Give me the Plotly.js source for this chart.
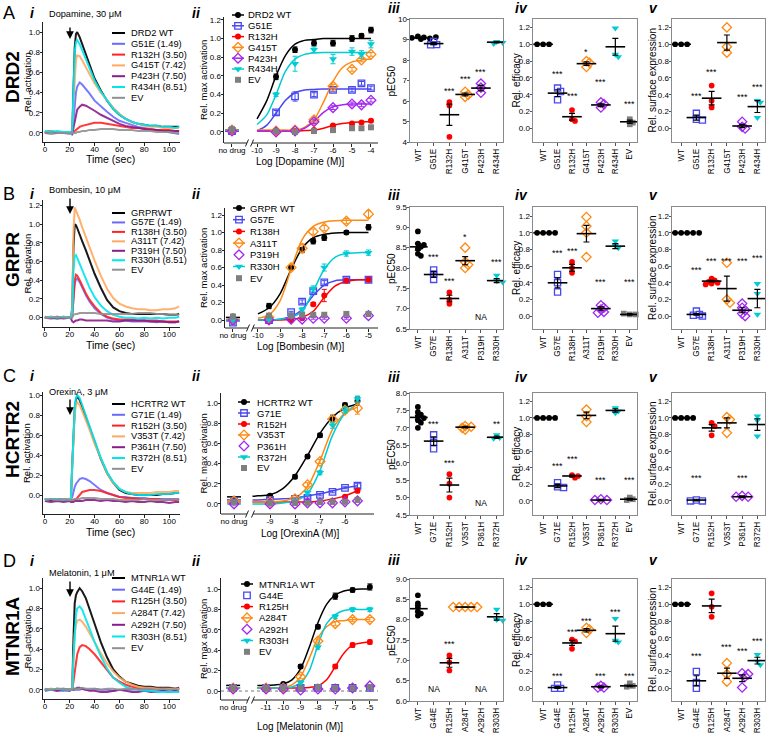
<!DOCTYPE html>
<html><head><meta charset="utf-8">
<script src="https://cdn.plot.ly/plotly-3.0.1.min.js"></script>
<style>body{margin:0;background:#fff}#chart{width:767px;height:733px}</style>
</head><body><div id="chart"></div>
<script>
// ================= DATA =================
const timeSec = [0,5,10,15,20,21,22,23,24,25,26,28,30,33,36,40,45,50,55,60,65,70,75,80,85,90,95,100,105,108];

// ---- Row A: DRD2 ----
const drd2TraceLabels = ['DRD2 WT','G51E (1.49)','R132H (3.50)','G415T (7.42)','P423H (7.50)','R434H (8.51)','EV'];
const drd2_WT    = [0.01,0.02,0.00,0.01,0.00,0.01,0.00,0.45,0.85,0.98,1.00,0.95,0.88,0.78,0.68,0.54,0.42,0.32,0.24,0.18,0.14,0.11,0.09,0.08,0.07,0.07,0.06,0.06,0.06,0.06];
const drd2_G51E  = [0.01,0.01,0.00,0.01,0.00,0.00,-0.02,0.12,0.30,0.40,0.46,0.50,0.48,0.44,0.39,0.32,0.26,0.21,0.16,0.12,0.10,0.08,0.06,0.05,0.04,0.03,0.02,0.01,0.00,-0.01];
const drd2_R132H = [0.00,0.01,0.00,0.01,0.00,0.00,0.00,0.01,0.02,0.03,0.04,0.06,0.07,0.08,0.09,0.10,0.10,0.09,0.08,0.07,0.06,0.05,0.05,0.04,0.04,0.03,0.03,0.03,0.02,0.02];
const drd2_G415T = [0.01,0.02,0.01,0.01,0.01,0.00,-0.01,0.30,0.60,0.72,0.77,0.76,0.72,0.65,0.58,0.49,0.40,0.32,0.25,0.19,0.14,0.11,0.09,0.07,0.06,0.06,0.05,0.05,0.05,0.05];
const drd2_P423H = [0.00,0.01,0.00,0.00,0.00,0.00,-0.01,0.06,0.13,0.19,0.23,0.26,0.28,0.27,0.25,0.22,0.18,0.15,0.12,0.09,0.07,0.06,0.05,0.04,0.03,0.03,0.02,0.02,0.02,0.02];
const drd2_R434H = [0.02,0.01,0.02,0.01,0.01,0.00,-0.01,0.42,0.80,0.90,0.92,0.88,0.82,0.73,0.64,0.52,0.41,0.32,0.24,0.18,0.14,0.11,0.09,0.08,0.07,0.07,0.06,0.06,0.05,0.06];
const drd2_EV    = [0.00,-0.01,0.00,0.00,-0.01,0.00,0.00,0.00,0.00,0.00,0.01,0.01,0.02,0.02,0.03,0.03,0.04,0.04,0.04,0.03,0.03,0.03,0.02,0.02,0.02,0.01,0.01,0.01,0.00,0.00];

const drd2DoseLabels = ['DRD2 WT','G51E','R132H','G415T','P423H','R434H','EV'];
const drd2Dose = ['no drug',-9,-8,-7,-6,-5,-4.5,-4];
const drd2Resp = [
  [0.02,0.59,0.88,0.95,0.95,1.00,1.03,1.09],
  [0.01,0.21,0.38,0.40,0.45,0.45,0.52,0.47],
  [0.01,0.00,0.01,0.02,0.07,0.09,0.10,0.12],
  [0.02,0.01,0.02,0.13,0.49,0.67,0.77,0.83],
  [0.01,0.00,0.01,0.11,0.26,0.30,0.29,0.34],
  [0.02,0.40,0.73,0.88,0.78,0.86,0.83,0.94],
  [0.03,0.01,0.00,0.01,0.02,0.04,0.04,0.05]
];
const drd2RespSem = [
  [0.01,0.03,0.03,0.03,0.03,0.03,0.02,0.03],
  [0.01,0.02,0.05,0.02,0.02,0.02,0.02,0.02],
  [0.01,0.01,0.01,0.01,0.01,0.01,0.01,0.01],
  [0.01,0.01,0.01,0.02,0.02,0.02,0.02,0.02],
  [0.01,0.01,0.01,0.02,0.02,0.02,0.02,0.02],
  [0.01,0.02,0.08,0.03,0.05,0.04,0.04,0.04],
  [0.01,0.01,0.01,0.01,0.01,0.01,0.01,0.01]
];
const drd2CurveX = [-10,-9.5,-9,-8.5,-8,-7.5,-7,-6.5,-6,-5.5,-5,-4.5,-4];
const drd2Curve = [
  [0.14,0.33,0.60,0.82,0.94,0.98,0.99,1.00,1.00,1.00,1.00,1.00,1.00],
  [0.01,0.07,0.20,0.34,0.42,0.45,0.455,0.46,0.46,0.46,0.46,0.46,0.46],
  [0.01,0.01,0.01,0.01,0.01,0.015,0.02,0.04,0.07,0.09,0.10,0.11,0.11],
  [0.02,0.02,0.02,0.02,0.02,0.05,0.13,0.32,0.54,0.69,0.75,0.77,0.78],
  [0.01,0.01,0.01,0.01,0.01,0.04,0.11,0.21,0.27,0.29,0.30,0.30,0.30],
  [0.08,0.18,0.40,0.65,0.78,0.83,0.845,0.85,0.85,0.85,0.85,0.85,0.85],
  null
];
const drd2Bottom = [0.02,0.01,0.01,0.02,0.01,0.02,null];

const drd2Cats = ['WT','G51E','R132H','G415T','P423H','R434H'];
const drd2EffCats = ['WT','G51E','R132H','G415T','P423H','R434H','EV'];
const drd2Pec = [[9.15,9.1,9.08,9.05,9.02,9.1,9.12],[8.9,8.75,8.74],[5.95,5.78,4.25],[6.45,6.3,6.2],[6.85,6.65,6.4],[8.9,8.85,8.8]];
const drd2PecMean = [9.08,8.8,5.33,6.32,6.63,8.87];
const drd2PecSem = [0.02,0.05,0.52,0.07,0.13,0.03];
const drd2PecSig = ['','','***','***','***',''];
const drd2Eff = [[1,1,1],[0.48,0.44,0.34],[0.22,0.11,0.09],[0.8,0.78,0.73],[0.31,0.29,0.25],[1.19,0.88,0.85],[0.11,0.07,0.05]];
const drd2EffMean = [1,0.42,0.14,0.77,0.28,0.97,0.08];
const drd2EffSem = [0,0.04,0.04,0.02,0.02,0.1,0.02];
const drd2EffSig = ['','***','***','*','***','','***'];
const drd2Surf = [[1,1,1],[0.18,0.11,0.1],[0.51,0.33,0.25],[1.2,0.97,0.9],[0.08,0.02,0.0],[0.33,0.31,0.13]];
const drd2SurfMean = [1,0.13,0.36,1.02,0.03,0.26];
const drd2SurfSem = [0,0.03,0.08,0.09,0.02,0.07];
const drd2SurfSig = ['','***','***','','***','***'];

// ---- Row B: GRPR ----
const grprTraceLabels = ['GRPRWT','G57E (1.49)','R138H (3.50)','A311T (7.42)','P319H (7.50)','R330H (8.51)','EV'];
const grpr_WT    = [0.00,0.00,-0.01,0.00,0.00,0.00,0.10,0.75,1.00,0.99,0.96,0.90,0.82,0.72,0.61,0.47,0.32,0.19,0.11,0.07,0.05,0.04,0.04,0.04,0.04,0.04,0.04,0.03,0.03,0.04];
const grpr_G57E  = [0.00,0.01,0.00,0.01,0.00,0.00,0.02,0.22,0.36,0.41,0.42,0.38,0.32,0.24,0.17,0.10,0.04,0.00,-0.02,-0.03,-0.03,-0.04,-0.04,-0.04,-0.04,-0.05,-0.04,-0.05,-0.05,-0.04];
const grpr_R138H = [0.01,0.00,0.01,0.00,0.00,0.00,0.02,0.25,0.40,0.46,0.45,0.40,0.34,0.26,0.19,0.12,0.05,0.01,-0.01,-0.02,-0.02,-0.02,-0.03,-0.03,-0.03,-0.03,-0.04,-0.04,-0.04,-0.04];
const grpr_A311T = [0.00,0.01,0.00,0.01,0.00,0.00,0.10,0.90,1.18,1.15,1.12,1.05,0.97,0.86,0.75,0.61,0.45,0.31,0.21,0.15,0.12,0.10,0.09,0.09,0.08,0.08,0.09,0.09,0.10,0.12];
const grpr_P319H = [0.00,-0.01,0.00,-0.01,0.00,-0.01,-0.04,-0.05,-0.04,-0.03,-0.03,-0.02,-0.02,-0.03,-0.03,-0.03,-0.03,-0.03,-0.04,-0.04,-0.03,-0.03,-0.03,-0.03,-0.04,-0.04,-0.04,-0.05,-0.05,-0.04];
const grpr_R330H = [0.00,0.01,0.00,0.01,0.00,0.00,0.05,0.50,0.66,0.67,0.64,0.58,0.50,0.41,0.32,0.22,0.13,0.07,0.03,0.01,0.00,0.00,-0.01,0.00,-0.01,0.00,-0.01,0.00,0.00,0.01];
const grpr_EV    = [0.00,0.00,0.01,0.00,0.00,0.00,0.00,0.03,0.04,0.04,0.04,0.05,0.05,0.05,0.05,0.05,0.04,0.04,0.04,0.04,0.04,0.04,0.05,0.05,0.05,0.04,0.04,0.03,0.03,0.03];

const grprDoseLabels = ['GRPR WT','G57E','R138H','A311T','P319H','R330H','EV'];
const grprDose = ['no drug',-9.5,-8.5,-8,-7.5,-7,-6,-5];
const grprResp = [
  [0.04,0.16,0.60,0.80,0.90,0.94,1.00,1.06],
  [-0.03,0.00,0.09,0.21,0.33,0.43,0.46,0.46],
  [0.00,0.00,0.00,0.02,0.18,0.28,0.45,0.46],
  [0.00,0.03,0.60,0.82,1.01,1.05,1.13,1.21],
  [0.00,0.00,0.01,0.01,0.02,0.02,0.02,0.05],
  [0.00,0.01,0.05,0.12,0.36,0.60,0.76,0.77],
  [0.04,0.05,0.05,0.06,0.06,0.06,0.07,0.07]
];
const grprRespSem = [
  [0.01,0.03,0.02,0.03,0.03,0.03,0.02,0.03],
  [0.02,0.01,0.01,0.02,0.02,0.02,0.02,0.02],
  [0.01,0.01,0.01,0.01,0.02,0.07,0.02,0.02],
  [0.01,0.01,0.03,0.05,0.03,0.03,0.03,0.04],
  [0.01,0.01,0.01,0.01,0.01,0.01,0.01,0.01],
  [0.01,0.01,0.01,0.02,0.03,0.04,0.03,0.03],
  [0.01,0.01,0.01,0.01,0.01,0.01,0.01,0.01]
];
const grprCurveX = [-10,-9.5,-9,-8.5,-8,-7.5,-7,-6.5,-6,-5.5,-5];
const grprCurve = [
  [0.07,0.14,0.30,0.58,0.82,0.94,0.98,0.995,1.00,1.00,1.00],
  [0.00,0.00,0.01,0.04,0.12,0.28,0.40,0.45,0.46,0.46,0.46],
  [0.00,0.00,0.00,0.01,0.03,0.10,0.26,0.39,0.44,0.46,0.46],
  [0.02,0.06,0.22,0.58,0.92,1.07,1.12,1.135,1.14,1.14,1.14],
  null,
  [0.00,0.00,0.01,0.03,0.10,0.33,0.58,0.72,0.76,0.77,0.77],
  null
];
const grprBottom = [0.03,-0.01,0.00,0.01,null,0.00,null];

const grprCats = ['WT','G57E','R138H','A311T','P319H','R330H'];
const grprEffCats = ['WT','G57E','R138H','A311T','P319H','R330H','EV'];
const grprPec = [[8.9,8.6,8.57,8.52,8.47,8.35,8.3],[7.95,7.85,7.72],[7.4,7.22,7.12],[8.5,8.15,8.08,8.0],[],[7.82,7.68,7.65]];
const grprPecMean = [8.52,7.84,7.25,8.18,null,7.69];
const grprPecSem = [0.08,0.07,0.08,0.1,null,0.05];
const grprPecSig = ['','***','***','*','','***'];
const grprEff = [[1,1,1,1],[0.5,0.4,0.29],[0.65,0.58,0.52],[1.19,1.08,1.0,0.71],[0.13,0.1,0.08,0.05,0.04],[0.9,0.85,0.82],[0.02,0.02,0.03]];
const grprEffMean = [1,0.4,0.58,0.99,0.09,0.84,0.02];
const grprEffSem = [0,0.06,0.04,0.1,0.02,0.03,0.01];
const grprEffSig = ['','***','***','','***','','***'];
const grprSurf = [[1,1,1,1,1,1],[0.06,0.02,0.01,0.0],[0.45,0.43,0.41,0.4,0.39,0.38],[0.64,0.2,0.16],[0.15,0.1,0.07,0.03,0.0],[0.39,0.27,0.02]];
const grprSurfMean = [1,0.02,0.42,0.33,0.07,0.21];
const grprSurfSem = [0,0.01,0.01,0.15,0.03,0.11];
const grprSurfSig = ['','***','***','***','***','***'];

// ---- Row C: HCRTR2 ----
const hcrtr2TraceLabels = ['HCRTR2 WT','G71E (1.49)','R152H (3.50)','V353T (7.42)','P361H (7.50)','R372H (8.51)','EV'];
const hcrtr2_WT    = [-0.04,-0.05,-0.04,-0.05,-0.04,-0.03,0.30,0.65,0.85,0.95,0.99,0.95,0.88,0.78,0.67,0.52,0.36,0.22,0.12,0.05,0.02,0.01,0.00,0.00,0.00,0.00,0.01,0.01,0.02,0.02];
const hcrtr2_G71E  = [-0.04,-0.04,-0.05,-0.04,-0.04,-0.04,-0.02,0.04,0.08,0.11,0.13,0.16,0.17,0.16,0.14,0.10,0.05,0.02,0.00,-0.02,-0.02,-0.03,-0.03,-0.03,-0.04,-0.04,-0.04,-0.04,-0.04,-0.04];
const hcrtr2_R152H = [-0.04,-0.04,-0.04,-0.05,-0.04,-0.04,-0.05,-0.05,-0.04,-0.04,-0.03,0.00,0.03,0.04,0.05,0.05,0.04,0.02,0.00,-0.02,-0.03,-0.03,-0.04,-0.04,-0.04,-0.04,-0.05,-0.05,-0.05,-0.05];
const hcrtr2_V353T = [-0.04,-0.04,-0.05,-0.04,-0.04,-0.03,0.28,0.60,0.80,0.90,0.93,0.90,0.84,0.75,0.65,0.51,0.36,0.22,0.12,0.06,0.03,0.02,0.02,0.02,0.02,0.03,0.03,0.03,0.04,0.04];
const hcrtr2_P361H = [-0.06,-0.07,-0.06,-0.07,-0.06,-0.07,-0.07,-0.07,-0.06,-0.06,-0.06,-0.06,-0.06,-0.05,-0.05,-0.05,-0.06,-0.05,-0.06,-0.06,-0.07,-0.06,-0.07,-0.07,-0.06,-0.07,-0.07,-0.08,-0.07,-0.07];
const hcrtr2_R372H = [-0.04,-0.04,-0.04,-0.05,-0.04,-0.03,0.32,0.68,0.88,0.97,1.00,0.97,0.90,0.80,0.69,0.54,0.37,0.23,0.13,0.06,0.03,0.01,0.00,0.00,0.00,0.01,0.01,0.01,0.02,0.02];
const hcrtr2_EV    = [-0.05,-0.04,-0.05,-0.04,-0.05,-0.05,-0.05,-0.05,-0.04,-0.04,-0.04,-0.04,-0.03,-0.03,-0.03,-0.03,-0.04,-0.04,-0.04,-0.05,-0.05,-0.05,-0.05,-0.04,-0.05,-0.05,-0.05,-0.05,-0.04,-0.05];

const hcrtr2DoseLabels = ['HCRTR2 WT','G71E','R152H','V353T','P361H','R372H','EV'];
const hcrtr2Dose = ['no drug',-9,-8,-7.5,-7,-6.5,-6,-5.5];
const hcrtr2Resp = [
  [0.03,0.08,0.27,0.47,0.68,0.85,0.98,1.02],
  [0.03,0.04,0.05,0.06,0.09,0.12,0.16,0.18],
  [0.02,0.02,0.02,0.02,0.02,0.03,0.07,0.13],
  [0.03,0.02,0.05,0.19,0.42,0.84,0.93,0.95],
  [0.00,0.00,0.00,0.01,0.01,0.01,0.02,0.03],
  [0.01,0.01,0.03,0.11,0.31,0.78,0.93,1.04],
  [0.02,0.01,0.01,0.01,0.02,0.02,0.02,0.04]
];
const hcrtr2RespSem = [
  [0.01,0.01,0.02,0.02,0.02,0.03,0.02,0.04],
  [0.01,0.01,0.01,0.01,0.01,0.01,0.01,0.02],
  [0.01,0.01,0.01,0.01,0.01,0.01,0.01,0.02],
  [0.01,0.01,0.01,0.02,0.02,0.03,0.03,0.06],
  [0.01,0.01,0.01,0.01,0.01,0.01,0.01,0.01],
  [0.01,0.01,0.01,0.02,0.02,0.03,0.03,0.03],
  [0.01,0.01,0.01,0.01,0.01,0.01,0.01,0.01]
];
const hcrtr2CurveX = [-9.7,-9.5,-9,-8.5,-8,-7.5,-7,-6.5,-6,-5.5];
const hcrtr2Curve = [
  [0.075,0.08,0.09,0.15,0.28,0.48,0.70,0.86,0.95,0.99],
  [0.04,0.04,0.045,0.05,0.06,0.08,0.10,0.13,0.16,0.18],
  [0.02,0.02,0.02,0.02,0.02,0.02,0.03,0.05,0.08,0.13],
  [0.02,0.02,0.02,0.03,0.06,0.17,0.43,0.74,0.90,0.96],
  null,
  [0.00,0.00,0.00,0.01,0.03,0.10,0.33,0.68,0.90,0.99],
  null
];
const hcrtr2Bottom = [0.07,0.04,0.02,0.02,null,0.00,null];

const hcrtr2Cats = ['WT','G71E','R152H','V353T','P361H','R372H'];
const hcrtr2EffCats = ['WT','G71E','R152H','V353T','P361H','R372H','EV'];
const hcrtr2Pec = [[7.6,7.45,7.38,7.32,7.28,7.22,7.15,7.0],[6.8,6.58,6.4],[5.67,5.4,5.0],[7.05,7.03,7.0,6.95],[],[6.8,6.72,6.7]];
const hcrtr2PecMean = [7.3,6.62,5.36,7.02,null,6.73];
const hcrtr2PecSem = [0.06,0.12,0.2,0.02,null,0.03];
const hcrtr2PecSig = ['','***','***','','','**'];
const hcrtr2Eff = [[1,1,1,1],[0.22,0.17,0.16],[0.31,0.3,0.28],[1.1,1.02,0.95],[0.02,0.01,0.01],[1.12,1.08,1.06],[0.04,0.02,0.01]];
const hcrtr2EffMean = [1,0.18,0.3,1.03,0.01,1.09,0.02];
const hcrtr2EffSem = [0,0.02,0.01,0.04,0.01,0.02,0.01];
const hcrtr2EffSig = ['','***','***','','***','','***'];
const hcrtr2Surf = [[1,1,1,1],[0.01,0.0,0.0],[0.94,0.9,0.79],[1.01,0.98,0.82],[0.06,0.05,0.05],[1.02,0.97,0.78]];
const hcrtr2SurfMean = [1,0.01,0.88,0.94,0.05,0.92];
const hcrtr2SurfSem = [0,0.01,0.04,0.06,0.01,0.07];
const hcrtr2SurfSig = ['','***','','','***',''];

// ---- Row D: MTNR1A ----
const mtnr1aTraceLabels = ['MTNR1A WT','G44E (1.49)','R125H (3.50)','A284T (7.42)','A292H (7.50)','R303H (8.51)','EV'];
const mtnr1a_WT    = [0.00,0.00,0.01,0.00,0.00,0.00,0.00,0.50,0.85,0.93,0.96,1.00,0.97,0.90,0.80,0.65,0.47,0.32,0.20,0.13,0.08,0.06,0.04,0.03,0.03,0.02,0.02,0.02,0.01,0.02];
const mtnr1a_G44E  = [0.00,0.01,0.00,-0.01,0.00,0.00,0.00,0.00,0.00,0.01,0.00,0.00,0.01,0.00,0.00,0.01,0.00,0.00,-0.01,0.00,0.00,0.00,0.01,0.00,0.00,0.00,-0.01,0.00,0.00,0.00];
const mtnr1a_R125H = [0.00,0.00,0.00,0.01,0.00,0.00,0.00,0.08,0.18,0.27,0.35,0.42,0.44,0.43,0.40,0.35,0.27,0.19,0.12,0.08,0.05,0.03,0.02,0.02,0.01,0.01,0.01,0.01,0.01,0.01];
const mtnr1a_A284T = [0.00,0.01,0.00,0.00,0.00,0.00,0.00,0.30,0.55,0.64,0.68,0.69,0.67,0.62,0.56,0.47,0.36,0.26,0.18,0.12,0.08,0.05,0.03,0.02,0.02,0.01,0.01,0.01,0.01,0.01];
const mtnr1a_A292H = [-0.01,0.00,-0.01,0.00,-0.01,0.00,0.00,0.00,0.01,0.01,0.02,0.02,0.01,0.00,-0.01,-0.01,-0.02,-0.02,-0.01,0.00,-0.01,-0.02,-0.02,-0.01,-0.02,-0.02,-0.01,-0.02,-0.01,-0.02];
const mtnr1a_R303H = [0.00,0.00,0.01,0.00,0.00,0.00,0.00,0.30,0.60,0.74,0.80,0.82,0.79,0.70,0.60,0.47,0.33,0.21,0.12,0.07,0.03,0.01,0.00,-0.01,-0.01,-0.02,-0.02,-0.02,-0.02,-0.02];
const mtnr1a_EV    = [0.01,0.00,0.01,0.01,0.00,0.01,0.01,0.01,0.01,0.00,0.01,0.01,0.02,0.01,0.01,0.01,0.00,0.01,0.01,0.00,0.01,0.01,0.00,0.01,0.01,0.00,0.01,0.00,0.01,0.00];

const mtnr1aDoseLabels = ['MTNR1A WT','G44E','R125H','A284T','A292H','R303H','EV'];
const mtnr1aDose = ['no drug',-11,-10,-9,-8,-7,-6,-5];
const mtnr1aResp = [
  [0.03,0.04,0.07,0.24,0.63,0.93,0.99,1.02],
  [0.03,0.03,0.03,0.03,0.03,0.03,0.03,0.03],
  [0.03,0.03,0.03,0.03,0.04,0.24,0.45,0.48],
  [0.03,0.03,0.03,0.14,0.49,0.66,0.70,0.70],
  [0.02,0.02,0.02,0.01,0.02,0.02,0.03,0.05],
  [0.03,0.03,0.03,0.08,0.43,0.73,0.80,0.80],
  [0.03,0.03,0.03,0.03,0.04,0.03,0.03,0.04]
];
const mtnr1aRespSem = [
  [0.01,0.01,0.01,0.02,0.02,0.03,0.02,0.03],
  [0.01,0.01,0.01,0.01,0.01,0.01,0.01,0.01],
  [0.01,0.01,0.01,0.01,0.01,0.02,0.02,0.02],
  [0.01,0.01,0.01,0.02,0.02,0.02,0.02,0.02],
  [0.01,0.01,0.01,0.01,0.01,0.01,0.01,0.01],
  [0.01,0.01,0.01,0.02,0.02,0.02,0.02,0.02],
  [0.01,0.01,0.01,0.01,0.01,0.01,0.01,0.01]
];
const mtnr1aCurveX = [-11.5,-11,-10.5,-10,-9.5,-9,-8.5,-8,-7.5,-7,-6.5,-6,-5.5,-5];
const mtnr1aCurve = [
  [0.055,0.055,0.06,0.07,0.11,0.22,0.43,0.67,0.85,0.94,0.98,0.995,1.00,1.00],
  null,
  [0.03,0.03,0.03,0.03,0.03,0.03,0.035,0.05,0.11,0.24,0.37,0.45,0.47,0.48],
  [0.03,0.03,0.03,0.035,0.06,0.14,0.32,0.52,0.63,0.68,0.69,0.70,0.70,0.70],
  null,
  [0.03,0.03,0.03,0.03,0.04,0.08,0.20,0.45,0.66,0.75,0.79,0.80,0.80,0.80],
  null
];
const mtnr1aBottom = [0.055,null,0.03,0.03,null,0.03,null];

const mtnr1aCats = ['WT','G44E','R125H','A284T','A292H','R303H'];
const mtnr1aEffCats = ['WT','G44E','R125H','A284T','A292H','R303H','EV'];
const mtnr1aPec = [[8.6,8.4,8.3,8.2,8.15,8.1],[],[7.12,6.95,6.75],[8.31,8.31,8.31,8.31,8.31],[],[8.25,8.0,7.98]];
const mtnr1aPecMean = [8.27,null,6.94,8.31,null,8.07];
const mtnr1aPecSem = [0.08,null,0.11,0.0,null,0.08];
const mtnr1aPecSig = ['','','***','','',''];
const mtnr1aEff = [[1,1,1],[0.04,0.0,0.0],[0.58,0.56,0.47],[0.72,0.7,0.66],[0.03,0.01,0.01],[0.83,0.57,0.55],[0.06,0.03,0.02]];
const mtnr1aEffMean = [1,0.01,0.54,0.69,0.02,0.65,0.03];
const mtnr1aEffSem = [0,0.01,0.03,0.02,0.01,0.09,0.01];
const mtnr1aEffSig = ['','***','***','***','***','***','***'];
const mtnr1aSurf = [[1,1,1],[0.2,0.07,0.0],[1.13,0.97,0.85],[0.3,0.17,0.08],[0.18,0.17,0.14,0.01],[0.4,0.32,0.28]];
const mtnr1aSurfMean = [1,0.09,0.98,0.18,0.12,0.33];
const mtnr1aSurfSem = [0,0.06,0.08,0.06,0.04,0.04];
const mtnr1aSurfSig = ['','***','','***','***','***'];

// ================= STYLE / LAYOUT CONFIG =================
const FONT = '"Liberation Sans", Arial, sans-serif';
const W = 767, H = 733;
const px = v => v / W, py = v => 1 - v / H;
const colI = ['#000000','#6a6aff','#ff2222','#ffa860','#8b1c8b','#00e6ee','#909090'];
const colM = ['#000000','#4848f0','#ff0000','#ff8a14','#a326f2','#00ccd4','#7f7f7f'];
const symM = ['circle','square-open','circle','diamond-open','diamond-open','triangle-down','square'];
const sizeM = [6,6.5,6,7.5,7.5,7,6];
const openM = [false,true,false,true,true,false,false];

const rows = [
 { letter:'A', gene:'DRD2', drug:'Dopamine, 30 μM', logTitle:'Log [Dopamine (M)]',
   traces:[drd2_WT,drd2_G51E,drd2_R132H,drd2_G415T,drd2_P423H,drd2_R434H,drd2_EV], iLabels:drd2TraceLabels,
   iiLabels:drd2DoseLabels, dose:drd2Dose, resp:drd2Resp, sem:drd2RespSem, curveX:drd2CurveX, curve:drd2Curve, bottom:drd2Bottom,
   cats:drd2Cats, effCats:drd2EffCats,
   pec:[drd2Pec,drd2PecMean,drd2PecSem,drd2PecSig], eff:[drd2Eff,drd2EffMean,drd2EffSem,drd2EffSig], surf:[drd2Surf,drd2SurfMean,drd2SurfSem,drd2SurfSig] },
 { letter:'B', gene:'GRPR', drug:'Bombesin, 10 μM', logTitle:'Log [Bombesin (M)]',
   traces:[grpr_WT,grpr_G57E,grpr_R138H,grpr_A311T,grpr_P319H,grpr_R330H,grpr_EV], iLabels:grprTraceLabels,
   iiLabels:grprDoseLabels, dose:grprDose, resp:grprResp, sem:grprRespSem, curveX:grprCurveX, curve:grprCurve, bottom:grprBottom,
   cats:grprCats, effCats:grprEffCats,
   pec:[grprPec,grprPecMean,grprPecSem,grprPecSig], eff:[grprEff,grprEffMean,grprEffSem,grprEffSig], surf:[grprSurf,grprSurfMean,grprSurfSem,grprSurfSig] },
 { letter:'C', gene:'HCRTR2', drug:'OrexinA, 3 μM', logTitle:'Log [OrexinA (M)]',
   traces:[hcrtr2_WT,hcrtr2_G71E,hcrtr2_R152H,hcrtr2_V353T,hcrtr2_P361H,hcrtr2_R372H,hcrtr2_EV], iLabels:hcrtr2TraceLabels,
   iiLabels:hcrtr2DoseLabels, dose:hcrtr2Dose, resp:hcrtr2Resp, sem:hcrtr2RespSem, curveX:hcrtr2CurveX, curve:hcrtr2Curve, bottom:hcrtr2Bottom,
   cats:hcrtr2Cats, effCats:hcrtr2EffCats,
   pec:[hcrtr2Pec,hcrtr2PecMean,hcrtr2PecSem,hcrtr2PecSig], eff:[hcrtr2Eff,hcrtr2EffMean,hcrtr2EffSem,hcrtr2EffSig], surf:[hcrtr2Surf,hcrtr2SurfMean,hcrtr2SurfSem,hcrtr2SurfSig] },
 { letter:'D', gene:'MTNR1A', drug:'Melatonin, 1 μM', logTitle:'Log [Melatonin (M)]',
   traces:[mtnr1a_WT,mtnr1a_G44E,mtnr1a_R125H,mtnr1a_A284T,mtnr1a_A292H,mtnr1a_R303H,mtnr1a_EV], iLabels:mtnr1aTraceLabels,
   iiLabels:mtnr1aDoseLabels, dose:mtnr1aDose, resp:mtnr1aResp, sem:mtnr1aRespSem, curveX:mtnr1aCurveX, curve:mtnr1aCurve, bottom:mtnr1aBottom,
   cats:mtnr1aCats, effCats:mtnr1aEffCats,
   pec:[mtnr1aPec,mtnr1aPecMean,mtnr1aPecSem,mtnr1aPecSig], eff:[mtnr1aEff,mtnr1aEffMean,mtnr1aEffSem,mtnr1aEffSig], surf:[mtnr1aSurf,mtnr1aSurfMean,mtnr1aSurfSem,mtnr1aSurfSig] }
];

// pixel geometry of each row (layout only)
const geo = [
 { labelY:13, numY:8, geneY:77, drugY:14, arrow:[26,39], iY:[22,142], iYr:[-0.09,1.1], iYmax:1.0, iLeg:[33,10.8], timeY:159,
   iiX:[224,378], iiXr:[-11.74,-3.63], nd:-11.32, brk:[-10.53,-10.26], iiTicks:[-10,-9,-8,-7,-6,-5,-4],
   iiY:[17,143], iiYr:[-0.118,1.23], iiYmax:1.2, iiLeg:{y0:15,dy:10.8,l0:232,l1:244,t:246}, logY:161, zeroLine:false,
   sY:[19,142], pYr:[4,10], pDt:1, pFmt:'d', eYr:[-0.16,1.30],
   pSigY:[null,null,6.6,7.15,7.5,null], eSigY:[null,0.675,0.405,0.93,0.58,null,0.31], sSigY:[null,0.405,0.7,null,0.4,0.52] },
 { labelY:194, numY:195, geneY:260, drugY:190, arrow:[197,214], iY:[200,327], iYr:[-0.1,1.26], iYmax:1.2, iLeg:[213,9.45], timeY:345,
   iiX:[225,378], iiXr:[-11.49,-4.57], nd:-11.13, brk:[-10.45,-10.23], iiTicks:[-10,-9,-8,-7,-6,-5],
   iiY:[208,328], iiYr:[-0.091,1.28], iiYmax:1.2, iiLeg:{y0:208,dy:11.7,l0:233,l1:245,t:248}, logY:346.5, zeroLine:false,
   sY:[207,329], pYr:[6.5,9.5], pDt:0.5, pFmt:'.1f', eYr:[-0.155,1.31],
   pSigY:[null,8.33,7.73,8.82,null,8.2], eSigY:[null,0.78,0.81,null,0.43,null,0.43], sSigY:[null,0.58,0.68,0.68,0.68,0.72] },
 { labelY:376, numY:377, geneY:440, drugY:392, arrow:[398,415], iY:[392,514], iYr:[-0.19,1.03], iYmax:1.0, iLeg:[404,10.8], timeY:532,
   iiX:[221,374], iiXr:[-10.96,-4.84], nd:-10.44, brk:[-9.92,-9.68], iiTicks:[-9,-8,-7,-6],
   iiY:[393,514], iiYr:[-0.1,1.1], iiYmax:1.0, iiLeg:{y0:402,dy:11,l0:238,l1:250,t:255}, logY:533, zeroLine:false,
   sY:[393,515], pYr:[4.5,8.0], pDt:0.5, pFmt:'.1f', eYr:[-0.17,1.30],
   pSigY:[null,7.17,6.05,null,null,7.17], eSigY:[null,0.45,0.53,null,0.27,null,0.27], sSigY:[null,0.3,null,null,0.3,null] },
 { labelY:561, numY:560, geneY:637, drugY:573, arrow:[580,597], iY:[578,699], iYr:[-0.09,1.1], iYmax:1.0, iLeg:[578,11.7], timeY:null,
   iiX:[221,378], iiXr:[-13.6,-4.53], nd:-12.9, brk:[-12.04,-11.75], iiTicks:[-11,-10,-9,-8,-7,-6,-5],
   iiY:[578,700], iiYr:[-0.088,1.108], iiYmax:1.0, iiLeg:{y0:584,dy:11.3,l0:241,l1:253,t:257}, logY:726, zeroLine:true,
   sY:[579,701], pYr:[6,9], pDt:0.5, pFmt:'.1f', eYr:[-0.15,1.30],
   pSigY:[null,null,7.45,null,null,null], eSigY:[null,0.17,0.69,0.83,0.17,0.93,0.17], sSigY:[null,0.41,null,0.52,0.47,0.59] }
];
const colGeo = { iX:[43,180], iXr:[-1.5,108.7],
  p:{x:[410,503], xr:[-0.5,5.4], title:'pEC50', tx:391},
  e:{x:[533,637], xr:[-0.7,6.5], title:'Rel. efficacy', tx:516},
  s:{x:[672,765], xr:[-0.6,5.5], title:'Rel. surface expression', tx:652} };

// ================= BUILD =================
const data = [], shapes = [], annotations = [];
const layout = { width:W, height:H, margin:{l:0,r:0,t:0,b:0}, paper_bgcolor:'#ffffff', plot_bgcolor:'rgba(0,0,0,0)',
  showlegend:false, font:{family:FONT,size:9,color:'#000'}, shapes, annotations };
const id = n => n === 1 ? '' : String(n);
const domX = (a,b) => [px(a), px(b)];
const domY = (a,b) => [py(b), py(a)];
function steps(a,b,d){ const r=[]; for(let v=a; v<=b+1e-9; v+=d) r.push(+v.toFixed(4)); return r; }
function baseAx(o){ return Object.assign({showgrid:false, zeroline:false, showline:true, linecolor:'#222', linewidth:1,
  ticks:'outside', ticklen:2.5, tickwidth:1, tickcolor:'#222', tickfont:{family:FONT,size:8,color:'#000'}, fixedrange:true, automargin:false}, o); }
const xAx = o => baseAx(Object.assign({ticklabelstandoff:-3}, o));
const yAx = o => baseAx(Object.assign({ticklabelstandoff:-2}, o));
function addAxes(n, xa, ya){ layout['xaxis'+id(n)] = Object.assign({anchor:'y'+id(n)}, xa); layout['yaxis'+id(n)] = Object.assign({anchor:'x'+id(n)}, ya); }
function txt(t, x, y, size, o){ annotations.push(Object.assign({text:t, x:px(x), y:py(y), xref:'paper', yref:'paper', showarrow:false,
  xanchor:'center', yanchor:'middle', font:{family:FONT,size:size,color:'#000'}}, o||{})); }
function pline(x0,y0,x1,y1,color,width,dash){ shapes.push({type:'line', xref:'paper', yref:'paper', x0:px(x0), y0:py(y0), x1:px(x1), y1:py(y1), line:{color:color,width:width,dash:dash||'solid'}}); }
function mk(k, scale){ return {symbol:symM[k], size:sizeM[k]*(scale||1), color:colM[k], line:{width:openM[k]?1.3:0, color:colM[k]}}; }

// legend-glyph overlay axis in pixel units
layout.xaxis21 = {domain:[0,1], range:[0,W], visible:false, fixedrange:true, anchor:'y21'};
layout.yaxis21 = {domain:[0,1], range:[H,0], visible:false, fixedrange:true, anchor:'x21'};

function swarm(vals, center, pX, pY){
  const placed=[], xs=[], step=3.0, minD=3.4;
  vals.forEach(v=>{
    const yp=v*pY; let off=0;
    for(let i=0;i<15;i++){
      const c = i===0 ? 0 : (i%2 ? Math.ceil(i/2) : -Math.ceil(i/2))*step;
      if(placed.every(p=>Math.hypot(p[0]-c,p[1]-yp)>=minD)){ off=c; break; }
    }
    placed.push([off,yp]); xs.push(center+off/pX);
  });
  return xs;
}

rows.forEach((R, r) => {
  const g = geo[r];
  const base = r*5;
  // ---- row labels
  txt(R.letter, 1, g.labelY, 18, {xanchor:'left'});
  txt('<b>'+R.gene+'</b>', 12, g.geneY, 19, {textangle:-90});
  [['i',28,g.labelY],['ii',190,g.labelY],['iii',386,g.numY],['iv',513,g.numY],['v',647,g.numY]].forEach(([s,x,y]) => txt('<b><i>'+s+'</i></b>', x, y, 14, {xanchor:'left'}));

  // ---- panel i : kinetics
  const n1 = base+1, xi='x'+id(n1), yi='y'+id(n1);
  addAxes(n1, xAx({domain:domX(...colGeo.iX), range:colGeo.iXr, tickvals:[0,20,40,60,80,100]}),
              yAx({domain:domY(...g.iY), range:g.iYr, tickvals:steps(0,g.iYmax,0.2), tickformat:'.1f'}));
  R.traces.forEach((ys,k) => data.push({type:'scatter', mode:'lines', x:timeSec, y:ys, xaxis:xi, yaxis:yi,
      line:{color:colI[k], width:2}, opacity:0.9, hoverinfo:'skip'}));
  R.iLabels.forEach((lab,k) => { const y = g.iLeg[0]+k*g.iLeg[1]; pline(112,y,125,y,colI[k],2); txt(lab,129,y,9.3,{xanchor:'left'}); });
  txt(R.drug, 47, g.drugY, 9.2, {xanchor:'left'});
  annotations.push({text:'', x:px(70), y:py(g.arrow[1]), xref:'paper', yref:'paper', showarrow:true, ax:0, ay:-(g.arrow[1]-g.arrow[0]),
    arrowhead:2, arrowsize:1.1, arrowwidth:1.4, arrowcolor:'#000', standoff:0, startstandoff:0});
  txt('Rel. activation', 27, (g.iY[0]+g.iY[1])/2, 9.5, {textangle:-90});
  if (g.timeY) txt('Time (sec)', 111, g.timeY, 10.5);

  // ---- panel ii : concentration response
  const n2 = base+2, xii='x'+id(n2), yii='y'+id(n2);
  addAxes(n2, xAx({domain:domX(...g.iiX), range:g.iiXr, showline:false, tickvals:[g.nd].concat(g.iiTicks), ticktext:['no drug'].concat(g.iiTicks.map(String))}),
              yAx({domain:domY(...g.iiY), range:g.iiYr, tickvals:steps(0,g.iiYmax,0.2), tickformat:'.1f'}));
  const toPx = v => g.iiX[0] + (v-g.iiXr[0])/(g.iiXr[1]-g.iiXr[0])*(g.iiX[1]-g.iiX[0]);
  const pxPerDec = (g.iiX[1]-g.iiX[0])/(g.iiXr[1]-g.iiXr[0]);
  const yA = g.iiY[1], b0 = toPx(g.brk[0]), b1 = toPx(g.brk[1]);
  pline(g.iiX[0], yA, b0, yA, '#222', 1);
  pline(b1, yA, g.iiX[1], yA, '#222', 1);
  pline(b0-1.5, yA+3.5, b0+1.5, yA-3.5, '#222', 1);
  pline(b1-1.5, yA+3.5, b1+1.5, yA-3.5, '#222', 1);
  if (g.zeroLine) shapes.push({type:'line', xref:xii, yref:yii, x0:g.iiXr[0], x1:g.iiXr[1], y0:0, y1:0, line:{color:'#777',width:1,dash:'dot'}});
  const doseX = R.dose.map(d => d === 'no drug' ? g.nd : d);
  const hw = 7/pxPerDec;
  R.curve.forEach((c,k) => {
    if (!c) return;
    data.push({type:'scatter', mode:'lines', x:R.curveX, y:c, xaxis:xii, yaxis:yii, line:{color:colM[k], width:1.5, shape:'spline', smoothing:0.8}, hoverinfo:'skip'});
    data.push({type:'scatter', mode:'lines', x:[g.nd-hw, g.nd+hw], y:[R.bottom[k], R.bottom[k]], xaxis:xii, yaxis:yii, line:{color:colM[k], width:1.5}, hoverinfo:'skip'});
  });
  R.resp.forEach((ys,k) => data.push({type:'scatter', mode:'markers', x:doseX, y:ys, xaxis:xii, yaxis:yii, marker:mk(k),
      error_y:{type:'data', array:R.sem[k], width:2.5, thickness:1, color:colM[k]}, hoverinfo:'skip'}));
  R.iiLabels.forEach((lab,k) => {
    const L = g.iiLeg, y = L.y0 + k*L.dy, xc = (L.l0+L.l1)/2;
    if (R.curve[k]) pline(L.l0, y, L.l1, y, colM[k], 1.5);
    data.push({type:'scatter', mode:'markers', x:[xc], y:[y], xaxis:'x21', yaxis:'y21', marker:mk(k), hoverinfo:'skip'});
    txt(lab, L.t, y, 9.5, {xanchor:'left'});
  });
  txt('Rel. max activation', 203, (g.iiY[0]+g.iiY[1])/2, 9.5, {textangle:-90});
  txt(R.logTitle, 300, g.logY, 10);

  // ---- panels iii, iv, v : scatter dot plots
  const panels = [
    {n:base+3, cfg:colGeo.p, d:R.pec, cats:R.cats, yr:g.pYr, yt:steps(g.pYr[0],g.pYr[1],g.pDt), fmt:g.pFmt, sigY:g.pSigY},
    {n:base+4, cfg:colGeo.e, d:R.eff, cats:R.effCats, yr:g.eYr, yt:steps(0,1.2,0.2), fmt:'.1f', sigY:g.eSigY},
    {n:base+5, cfg:colGeo.s, d:R.surf, cats:R.cats, yr:g.eYr, yt:steps(0,1.2,0.2), fmt:'.1f', sigY:g.sSigY}
  ];
  panels.forEach(P => {
    const xs='x'+id(P.n), ys='y'+id(P.n);
    addAxes(P.n, xAx({domain:domX(...P.cfg.x), range:P.cfg.xr, tickvals:P.cats.map((c,i)=>i), ticktext:P.cats, tickangle:-90, ticklabelstandoff:0,
                  linecolor:'#8a8a8a', mirror:true, tickcolor:'#555', tickfont:{family:FONT,size:8.2,color:'#000'}}),
                 yAx({domain:domY(...g.sY), range:P.yr, tickvals:P.yt, tickformat:P.fmt, linecolor:'#8a8a8a', mirror:true, tickcolor:'#555'}));
    const pX = (P.cfg.x[1]-P.cfg.x[0])/(P.cfg.xr[1]-P.cfg.xr[0]);
    const pY = (g.sY[1]-g.sY[0])/(P.yr[1]-P.yr[0]);
    const [groups, means, sems, sig] = P.d;
    groups.forEach((vals,k) => {
      if (!vals.length) {
        annotations.push({text:'NA', x:k, y:P.yr[0]+0.1*(P.yr[1]-P.yr[0]), xref:xs, yref:ys, showarrow:false, font:{family:FONT,size:8.5,color:'#000'}});
        return;
      }
      data.push({type:'scatter', mode:'markers', x:swarm(vals,k,pX,pY), y:vals, xaxis:xs, yaxis:ys, marker:mk(k,0.95), hoverinfo:'skip', cliponaxis:false});
      data.push({type:'scatter', mode:'markers', x:[k], y:[means[k]], xaxis:xs, yaxis:ys,
        marker:{symbol:'line-ew', size:14, color:'#000', line:{width:1.6,color:'#000'}},
        error_y:{type:'data', array:[sems[k]], width:3, thickness:1.2, color:'#000'}, hoverinfo:'skip'});
      if (sig[k]) annotations.push({text:sig[k], x:k, y:P.sigY[k], xref:xs, yref:ys, showarrow:false, yshift:-2, font:{family:FONT,size:9,color:'#000'}});
    });
    txt(P.cfg.title, P.cfg.tx, (g.sY[0]+g.sY[1])/2, 10, {textangle:-90});
  });
});

Plotly.newPlot('chart', data, layout, {staticPlot:true, displayModeBar:false});
</script></body></html>
